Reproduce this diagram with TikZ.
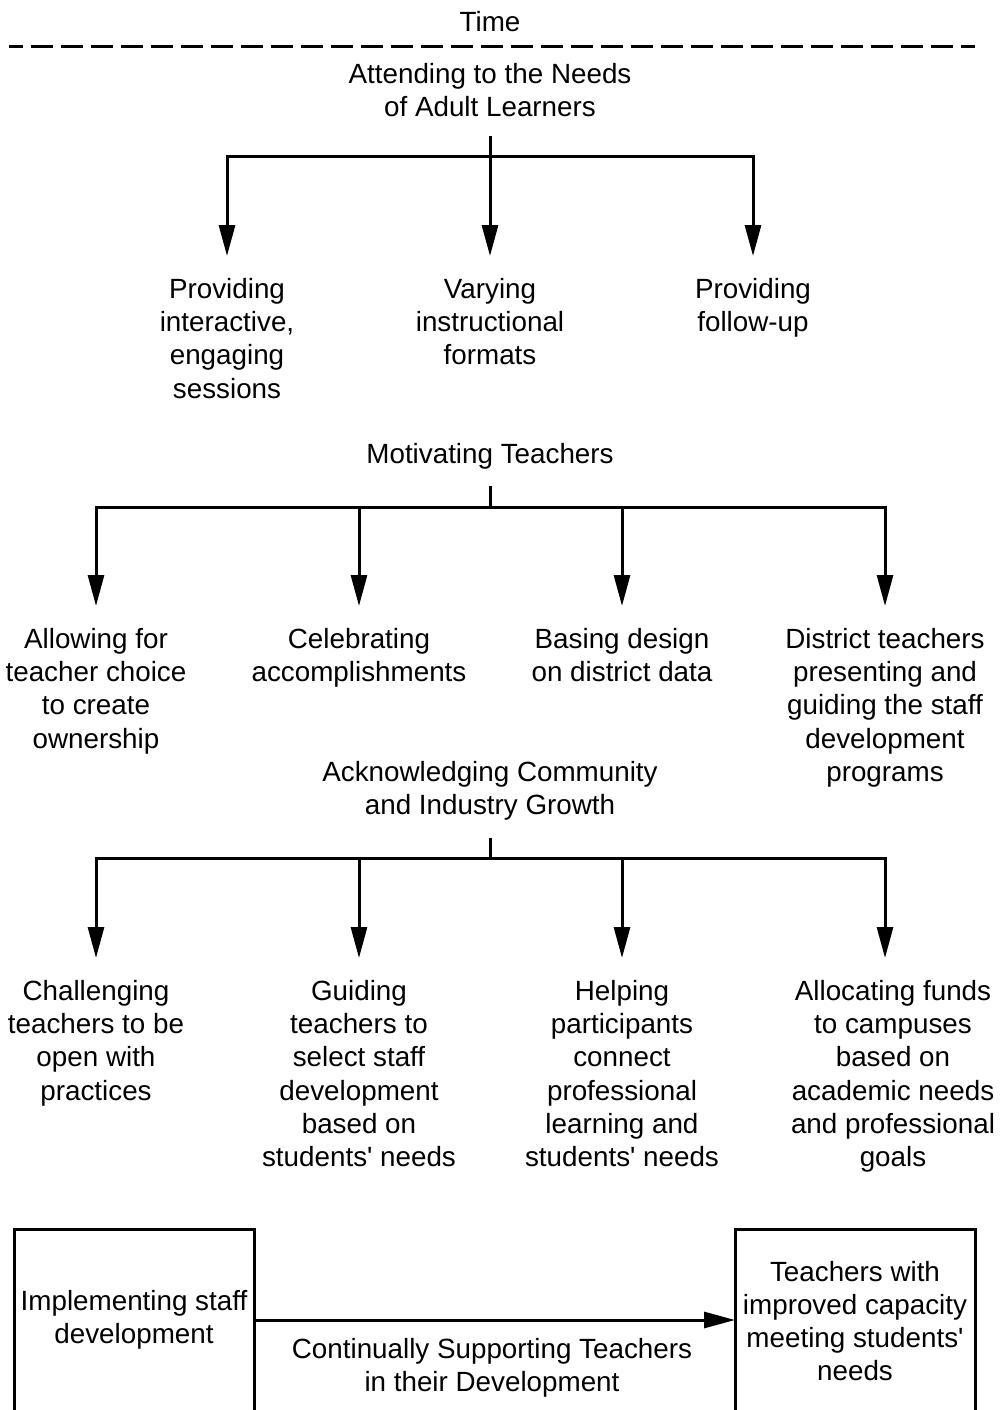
\documentclass[tikz,border=0pt]{standalone}
\usepackage{fontspec}
\setmainfont{Liberation Sans}
\usetikzlibrary{arrows.meta}

\tikzset{
  txt/.style={font=\fontsize{27.8}{33.3}\selectfont, align=center, inner sep=0pt},
  parent/.style={txt, anchor=north},
  child/.style={txt, anchor=north, inner ysep=22pt},
  wire/.style={line width=3pt, line join=miter},
  arrow/.style={wire, -{Triangle[length=31pt, width=16pt]}},
  box/.style={draw, line width=3pt, outer sep=0pt, inner sep=0pt,
    anchor=north west, minimum width=240pt, minimum height=240pt},
  timeline/.style={line width=3pt, dash pattern=on 22pt off 8pt, dash phase=8pt}
}
\newcommand{\apos}{\textquotesingle}

\begin{document}
\begin{tikzpicture}[x=1pt, y=-1pt]
\useasboundingbox (0,0) rectangle (999,1410);
\clip (0,0) rectangle (999,1410);

% time axis
\node[txt] (time) at (490,22) {Time};
\coordinate (tl) at (9,47);
\coordinate (tr) at (975,47);
\draw[timeline] (tl) -- (tr);

% first stage
\node[parent] (p1) at (490,63) {Attending to the Needs\\of Adult Learners};
\coordinate (h1) at (490,156);
\node[child] (a1) at (227,256) {Providing\\interactive,\\engaging\\sessions};
\node[child] (a2) at (490,256) {Varying\\instructional\\formats};
\node[child] (a3) at (753,256) {Providing\\follow-up};
\draw[wire] ([yshift=-19pt]p1.south) -- (h1);
\foreach \c in {a1,a2,a3} \draw[arrow] (h1) -| (\c.north);

% second stage
\node[parent] (p2) at (490,443) {Motivating Teachers};
\coordinate (h2) at (490,507);
\node[child] (b1) at (96,606) {Allowing for\\teacher choice\\to create\\ownership};
\node[child] (b2) at (359,606) {Celebrating\\accomplishments};
\node[child] (b3) at (622,606) {Basing design\\on district data};
\node[child] (b4) at (885,606) {District teachers\\presenting and\\guiding the staff\\development\\programs};
\draw[wire] ([yshift=-17pt]p2.south) -- (h2);
\foreach \c in {b1,b2,b3,b4} \draw[arrow] (h2) -| (\c.north);

% third stage
\node[parent] (p3) at (490,761) {Acknowledging Community\\and Industry Growth};
\coordinate (h3) at (490,858);
\node[child] (c1) at (96,958) {Challenging\\teachers to be\\open with\\practices};
\node[child] (c2) at (359,958) {Guiding\\teachers to\\select staff\\development\\based on\\students\apos{} needs};
\node[child] (c3) at (622,958) {Helping\\participants\\connect\\professional\\learning and\\students\apos{} needs};
\node[child] (c4) at (893,958) {Allocating funds\\to campuses\\based on\\academic needs\\and professional\\goals};
\draw[wire] ([yshift=-17pt]p3.south) -- (h3);
\foreach \c in {c1,c2,c3} \draw[arrow] (h3) -| (\c.north);
\draw[arrow] (h3) -| ([xshift=-8pt]c4.north);

% outcome
\node[box] (lbox) at (14,1229) {};
\node[box] (rbox) at (735,1229) {};
\node[txt] (ltxt) at (134,1320) {Implementing staff\\development};
\node[txt] (rtxt) at (855,1321) {Teachers with\\improved capacity\\meeting students\apos\\needs};
\draw[arrow] (lbox.east |- ltxt) -- (rbox.west |- ltxt);
\node[txt] (lbl) at (492,1368) {Continually Supporting Teachers\\in their Development};
\end{tikzpicture}
\end{document}
